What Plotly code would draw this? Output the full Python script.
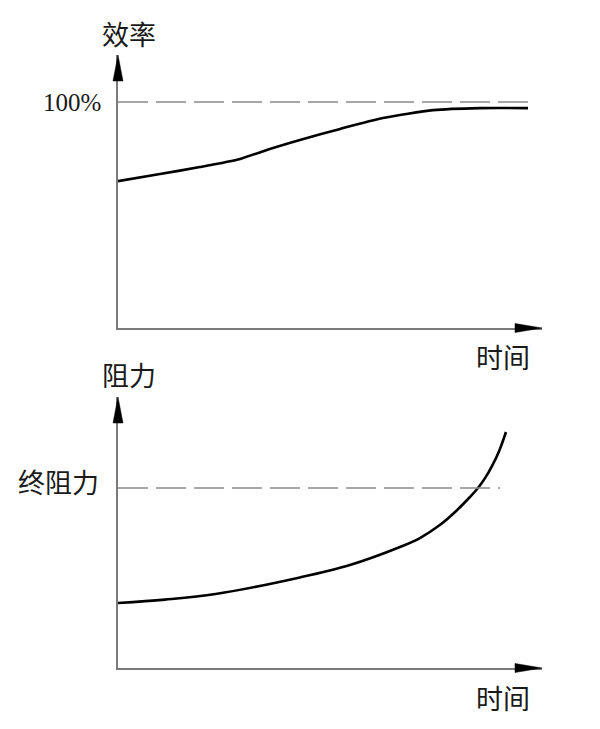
import plotly.graph_objects as go

# ---- data ----
eff_time = [0, 9.9, 19.3, 28.8, 35.8, 42.9, 52.4, 62.5, 74.3, 85.4, 96.7]
eff_value = [65.0, 68.1, 71.2, 74.8, 79.2, 83.2, 88.1, 92.9, 96.4, 97.3, 97.3]

res_time = [0, 11.1, 23.0, 42.9, 54.7, 66.5, 71.2, 75.9, 80.0, 83.0, 84.9, 86.6, 88.2, 89.9, 91.5]
res_value = [36.1, 38.0, 41.1, 50.3, 57.2, 67.2, 72.2, 79.4, 87.8, 95.0, 100.0, 105.6, 112.2, 120.6, 131.1]

eff_ref = 100          # 100% line
res_ref = 100          # 终阻力 line
eff_ref_end = 97.9     # extent of dashed reference lines (time units)
res_ref_end = 90.1

top_ylabel = "效率"
bot_ylabel = "阻力"
xlabel = "时间"
eff_tick = "100%"
res_tick = "终阻力"

# ---- layout helpers (page body has an 8px margin) ----
OFF = 8
W, H = 600 - OFF, 729 - OFF
def px(x):
    return (x - OFF) / W
def py(y):
    return 1 - (y - OFF) / H

AX_COL = "#7a7a7a"
DASH_COL = "#8a8a8a"
CJK = "Noto Sans CJK SC"

fig = go.Figure()
fig.add_trace(go.Scatter(x=eff_time, y=eff_value, mode="lines", line=dict(color="black", width=2.6, shape="spline", smoothing=0.6),
                         xaxis="x", yaxis="y", showlegend=False, cliponaxis=False, hoverinfo="skip"))
fig.add_trace(go.Scatter(x=res_time, y=res_value, mode="lines", line=dict(color="black", width=2.6, shape="spline", smoothing=1.0),
                         xaxis="x2", yaxis="y2", showlegend=False, cliponaxis=False, hoverinfo="skip"))

axis_common = dict(showline=True, linecolor=AX_COL, linewidth=1.5, showgrid=False, zeroline=False,
                   showticklabels=False, ticks="", fixedrange=True)

fig.update_layout(
    width=W, height=H, margin=dict(l=0, r=0, t=0, b=0),
    paper_bgcolor="white", plot_bgcolor="white",
    xaxis=dict(domain=[px(118), px(542)], range=[0, 100], anchor="y", **axis_common),
    yaxis=dict(domain=[py(328), py(55)], range=[0, (328 - 55) / 2.26], anchor="x", **axis_common),
    xaxis2=dict(domain=[px(118), px(542)], range=[0, 100], anchor="y2", **axis_common),
    yaxis2=dict(domain=[py(668), py(397)], range=[0, (668 - 397) / 1.8], anchor="x2", **axis_common),
)

shapes = []
# dashed reference lines
shapes.append(dict(type="line", xref="x", yref="y", x0=0, x1=eff_ref_end, y0=eff_ref, y1=eff_ref,
                   line=dict(color=DASH_COL, width=1.5, dash="30px,8px")))
shapes.append(dict(type="line", xref="x2", yref="y2", x0=0, x1=res_ref_end, y0=res_ref, y1=res_ref,
                   line=dict(color=DASH_COL, width=1.5, dash="30px,8px")))

def tri(points):
    d = "M " + " L ".join(f"{px(x):.5f},{py(y):.5f}" for x, y in points) + " Z"
    return dict(type="path", xref="paper", yref="paper", path=d, fillcolor="black", line=dict(color="black", width=0.5))

# arrowheads
for ytip, ybase in [(55, 81), (397, 423)]:
    shapes.append(tri([(118, ytip), (113, ybase), (123, ybase)]))
for yax in [328, 668]:
    shapes.append(tri([(542, yax), (515, yax - 4.5), (515, yax + 4.5)]))
fig.update_layout(shapes=shapes)

ann = []
def text(t, x, y, xanchor="center", font=CJK, size=27):
    ann.append(dict(text=t, x=px(x), y=py(y), xref="paper", yref="paper", showarrow=False,
                    xanchor=xanchor, yanchor="middle", font=dict(family=font, size=size, color="#1a1a1a")))

text(top_ylabel, 129, 34)
text(bot_ylabel, 129, 374)
text(xlabel, 503, 356)
text(xlabel, 503, 697)
text(eff_tick, 103, 103, xanchor="right", font="Liberation Serif", size=25)
text(res_tick, 101, 481, xanchor="right")
fig.update_layout(annotations=ann)

fig.write_html("out.html")
